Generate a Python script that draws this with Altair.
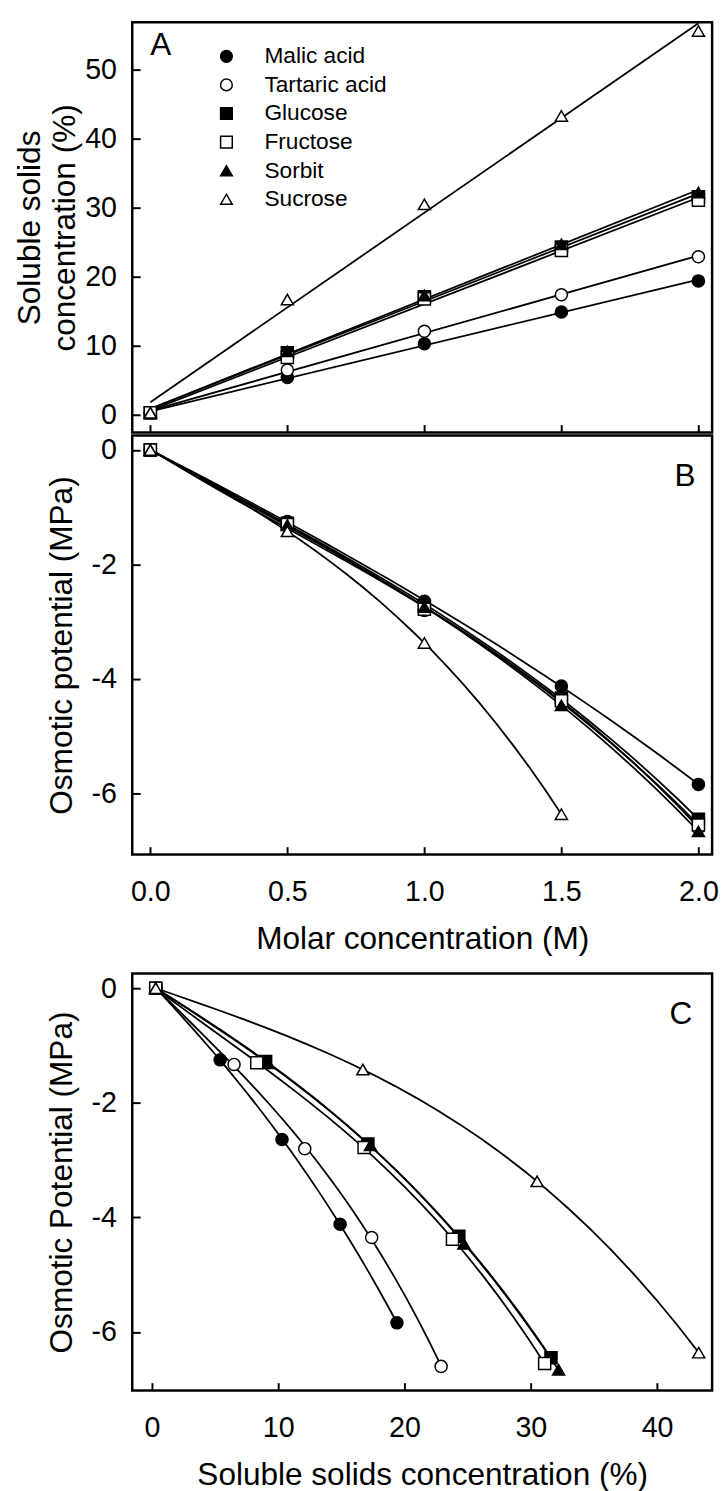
import altair as alt
import pandas as pd

FONT = "Liberation Sans"

# ---------------- data ----------------
series_names = ["Malic acid", "Tartaric acid", "Glucose", "Fructose", "Sorbit", "Sucrose"]
molar = [0.0, 0.5, 1.0, 1.5, 2.0]

# soluble solids concentration (%) per molar level
ssc_malic = [0.3, 5.4, 10.3, 14.9, 19.4]
ssc_tartaric = [0.3, 6.5, 12.1, 17.4, 22.9]
ssc_glucose = [0.3, 9.0, 17.1, 24.3, 31.6]
ssc_fructose = [0.3, 8.3, 16.8, 23.8, 31.1]
ssc_sorbit = [0.3, 9.2, 17.3, 24.7, 32.2]
ssc_sucrose = [0.3, 16.7, 30.5, 43.3, 55.6]

# osmotic potential (MPa) per molar level
op_malic = [0.0, -1.25, -2.64, -4.12, -5.84]
op_tartaric = [0.0, -1.33, -2.80, -4.35, -6.60]
op_glucose = [0.0, -1.28, -2.72, -4.33, -6.45]
op_fructose = [0.0, -1.30, -2.78, -4.38, -6.55]
op_sorbit = [0.0, -1.31, -2.74, -4.46, -6.66]
op_sucrose = [0.0, -1.42, -3.37, -6.36]

shapes = ["circle", "circle", "square", "square", "triangle-up", "triangle-up"]
fills = ["black", "white", "black", "white", "black", "white"]
strokes = ["black"] * 6

ticks_molar = [0.0, 0.5, 1.0, 1.5, 2.0]
ticks_ssc_a = [0, 10, 20, 30, 40, 50]
ticks_op = [0, -2, -4, -6]
ticks_ssc_c = [0, 10, 20, 30, 40]

panel_letters = ["A", "B", "C"]
letter_x = [0.0, 1.99, 42.8]
letter_y = [53.5, -0.45, -0.45]

ssc = dict(zip(series_names, [ssc_malic, ssc_tartaric, ssc_glucose, ssc_fructose, ssc_sorbit, ssc_sucrose]))
op = dict(zip(series_names, [op_malic, op_tartaric, op_glucose, op_fructose, op_sorbit, op_sucrose]))

rows = []
for s in series_names:
    for i, m in enumerate(molar):
        rows.append({"series": s, "molar": m, "ssc": ssc[s][i],
                     "op": op[s][i] if i < len(op[s]) else None})
df = pd.DataFrame(rows)
df_op = df.dropna(subset=["op"]).reset_index(drop=True)

letters = pd.DataFrame({"panel": panel_letters, "lx": letter_x, "ly": letter_y})

# ---------------- layout ----------------
W = 588
HA, HB, HC = 416, 425, 423

x_m_scale = alt.Scale(domain=[-0.066, 2.05], nice=False, zero=False)
ya_scale = alt.Scale(domain=[-2.56, 56.86], nice=False, zero=False)
yb_scale = alt.Scale(domain=[-7.066, 0.254], nice=False, zero=False)
yc_scale = alt.Scale(domain=[-7.022, 0.258], nice=False, zero=False)
xc_scale = alt.Scale(domain=[-1.56, 44.36], nice=False, zero=False)

shape_scale = alt.Scale(domain=series_names, range=shapes)
fill_scale = alt.Scale(domain=series_names, range=fills)
stroke_scale = alt.Scale(domain=series_names, range=strokes)

MINUS = "replace(datum.label, '\u2212', '-')"


def left_axis(values, title, title_x):
    return alt.Axis(values=values, title=title, orient="left", offset=-8,
                    tickSize=8, tickWidth=2, tickColor="black", domain=False, grid=False,
                    labelFont=FONT, labelFontSize=29, labelColor="black", labelPadding=16,
                    labelExpr=MINUS,
                    titleFont=FONT, titleFontSize=32, titleFontWeight="normal",
                    titleColor="black", titleAngle=270, titleBaseline="alphabetic",
                    titleX=title_x, titleLineHeight=35)


def bottom_axis(values, title, fmt, labels=True):
    kw = dict(values=values, orient="bottom", offset=-8, tickSize=8, tickWidth=2,
              tickColor="black", domain=False, grid=False, labels=labels)
    if labels:
        kw.update(format=fmt, labelFont=FONT, labelFontSize=29, labelColor="black",
                  labelPadding=24, labelFlush=False, title=title, titleFont=FONT,
                  titleFontSize=32, titleFontWeight="normal", titleColor="black",
                  titlePadding=17)
    else:
        kw.update(title=None)
    return alt.Axis(**kw)


legend = alt.Legend(orient="none", legendX=84, legendY=23, title=None, padding=0,
                    labelFont=FONT, labelFontSize=23, labelColor="black",
                    symbolSize=140, symbolStrokeWidth=1.5, symbolStrokeColor="black",
                    rowPadding=5, labelOffset=27)

point_kw = dict(size=150, strokeWidth=1.5, opacity=1)
line_kw = dict(color="black", strokeWidth=1.8)
text_kw = dict(font=FONT, fontSize=32, color="black", baseline="middle")


def point_layer(base, show_legend):
    lg = legend if show_legend else None
    return base.mark_point(**point_kw).encode(
        shape=alt.Shape("series:N", scale=shape_scale, legend=lg),
        fill=alt.Fill("series:N", scale=fill_scale, legend=lg),
        stroke=alt.Stroke("series:N", scale=stroke_scale, legend=lg),
    )


# ---------------- panel A ----------------
axA_x = bottom_axis(ticks_molar, None, ".1f", labels=False)
axA_y = left_axis(ticks_ssc_a, ["Soluble solids", "concentration (%)"], -102)
baseA = alt.Chart(df).encode(
    x=alt.X("molar:Q", scale=x_m_scale, axis=axA_x),
    y=alt.Y("ssc:Q", scale=ya_scale, axis=axA_y),
)
linesA = baseA.transform_regression("molar", "ssc", groupby=["series"]).mark_line(**line_kw).encode(
    detail="series:N")
pointsA = point_layer(baseA, True)
textA = alt.Chart(letters).transform_filter(alt.datum.panel == "A").mark_text(align="left", **text_kw).encode(
    x=alt.X("lx:Q", scale=x_m_scale, axis=axA_x),
    y=alt.Y("ly:Q", scale=ya_scale, axis=axA_y),
    text="panel:N",
)
A = alt.layer(linesA, pointsA, textA).properties(width=W, height=HA)

# ---------------- panel B ----------------
axB_x = bottom_axis(ticks_molar, "Molar concentration (M)", ".1f")
axB_y = left_axis(ticks_op, "Osmotic potential (MPa)", -70)
baseB = alt.Chart(df_op).encode(
    x=alt.X("molar:Q", scale=x_m_scale, axis=axB_x),
    y=alt.Y("op:Q", scale=yb_scale, axis=axB_y),
)
linesB = baseB.transform_regression("molar", "op", groupby=["series"], method="poly", order=3).mark_line(
    **line_kw).encode(detail="series:N")
pointsB = point_layer(baseB, False)
textB = alt.Chart(letters).transform_filter(alt.datum.panel == "B").mark_text(align="right", **text_kw).encode(
    x=alt.X("lx:Q", scale=x_m_scale, axis=axB_x),
    y=alt.Y("ly:Q", scale=yb_scale, axis=axB_y),
    text="panel:N",
)
B = alt.layer(linesB, pointsB, textB).properties(width=W, height=HB)

# ---------------- panel C ----------------
axC_x = bottom_axis(ticks_ssc_c, "Soluble solids concentration (%)", "d")
axC_y = left_axis(ticks_op, "Osmotic Potential (MPa)", -70)
baseC = alt.Chart(df_op).encode(
    x=alt.X("ssc:Q", scale=xc_scale, axis=axC_x),
    y=alt.Y("op:Q", scale=yc_scale, axis=axC_y),
)
linesC = baseC.transform_regression("ssc", "op", groupby=["series"], method="poly", order=3).mark_line(
    **line_kw).encode(detail="series:N")
pointsC = point_layer(baseC, False)
textC = alt.Chart(letters).transform_filter(alt.datum.panel == "C").mark_text(align="right", **text_kw).encode(
    x=alt.X("lx:Q", scale=xc_scale, axis=axC_x),
    y=alt.Y("ly:Q", scale=yc_scale, axis=axC_y),
    text="panel:N",
)
C = alt.layer(linesC, pointsC, textC).properties(
    width=W, height=HC, title=alt.TitleParams(text=" ", fontSize=4, offset=14))

chart = (
    alt.vconcat(A, B, C, spacing=-2.5)
    .resolve_scale(x="independent", y="independent", shape="independent",
                   fill="independent", stroke="independent")
    .resolve_axis(x="independent", y="independent")
    .resolve_legend(shape="independent", fill="independent", stroke="independent")
    .properties(padding={"left": 4, "top": 0, "right": 0, "bottom": 0})
    .configure_view(stroke="black", strokeWidth=2.5)
)

chart.save("out.html", embed_options={"renderer": "svg", "actions": False})
